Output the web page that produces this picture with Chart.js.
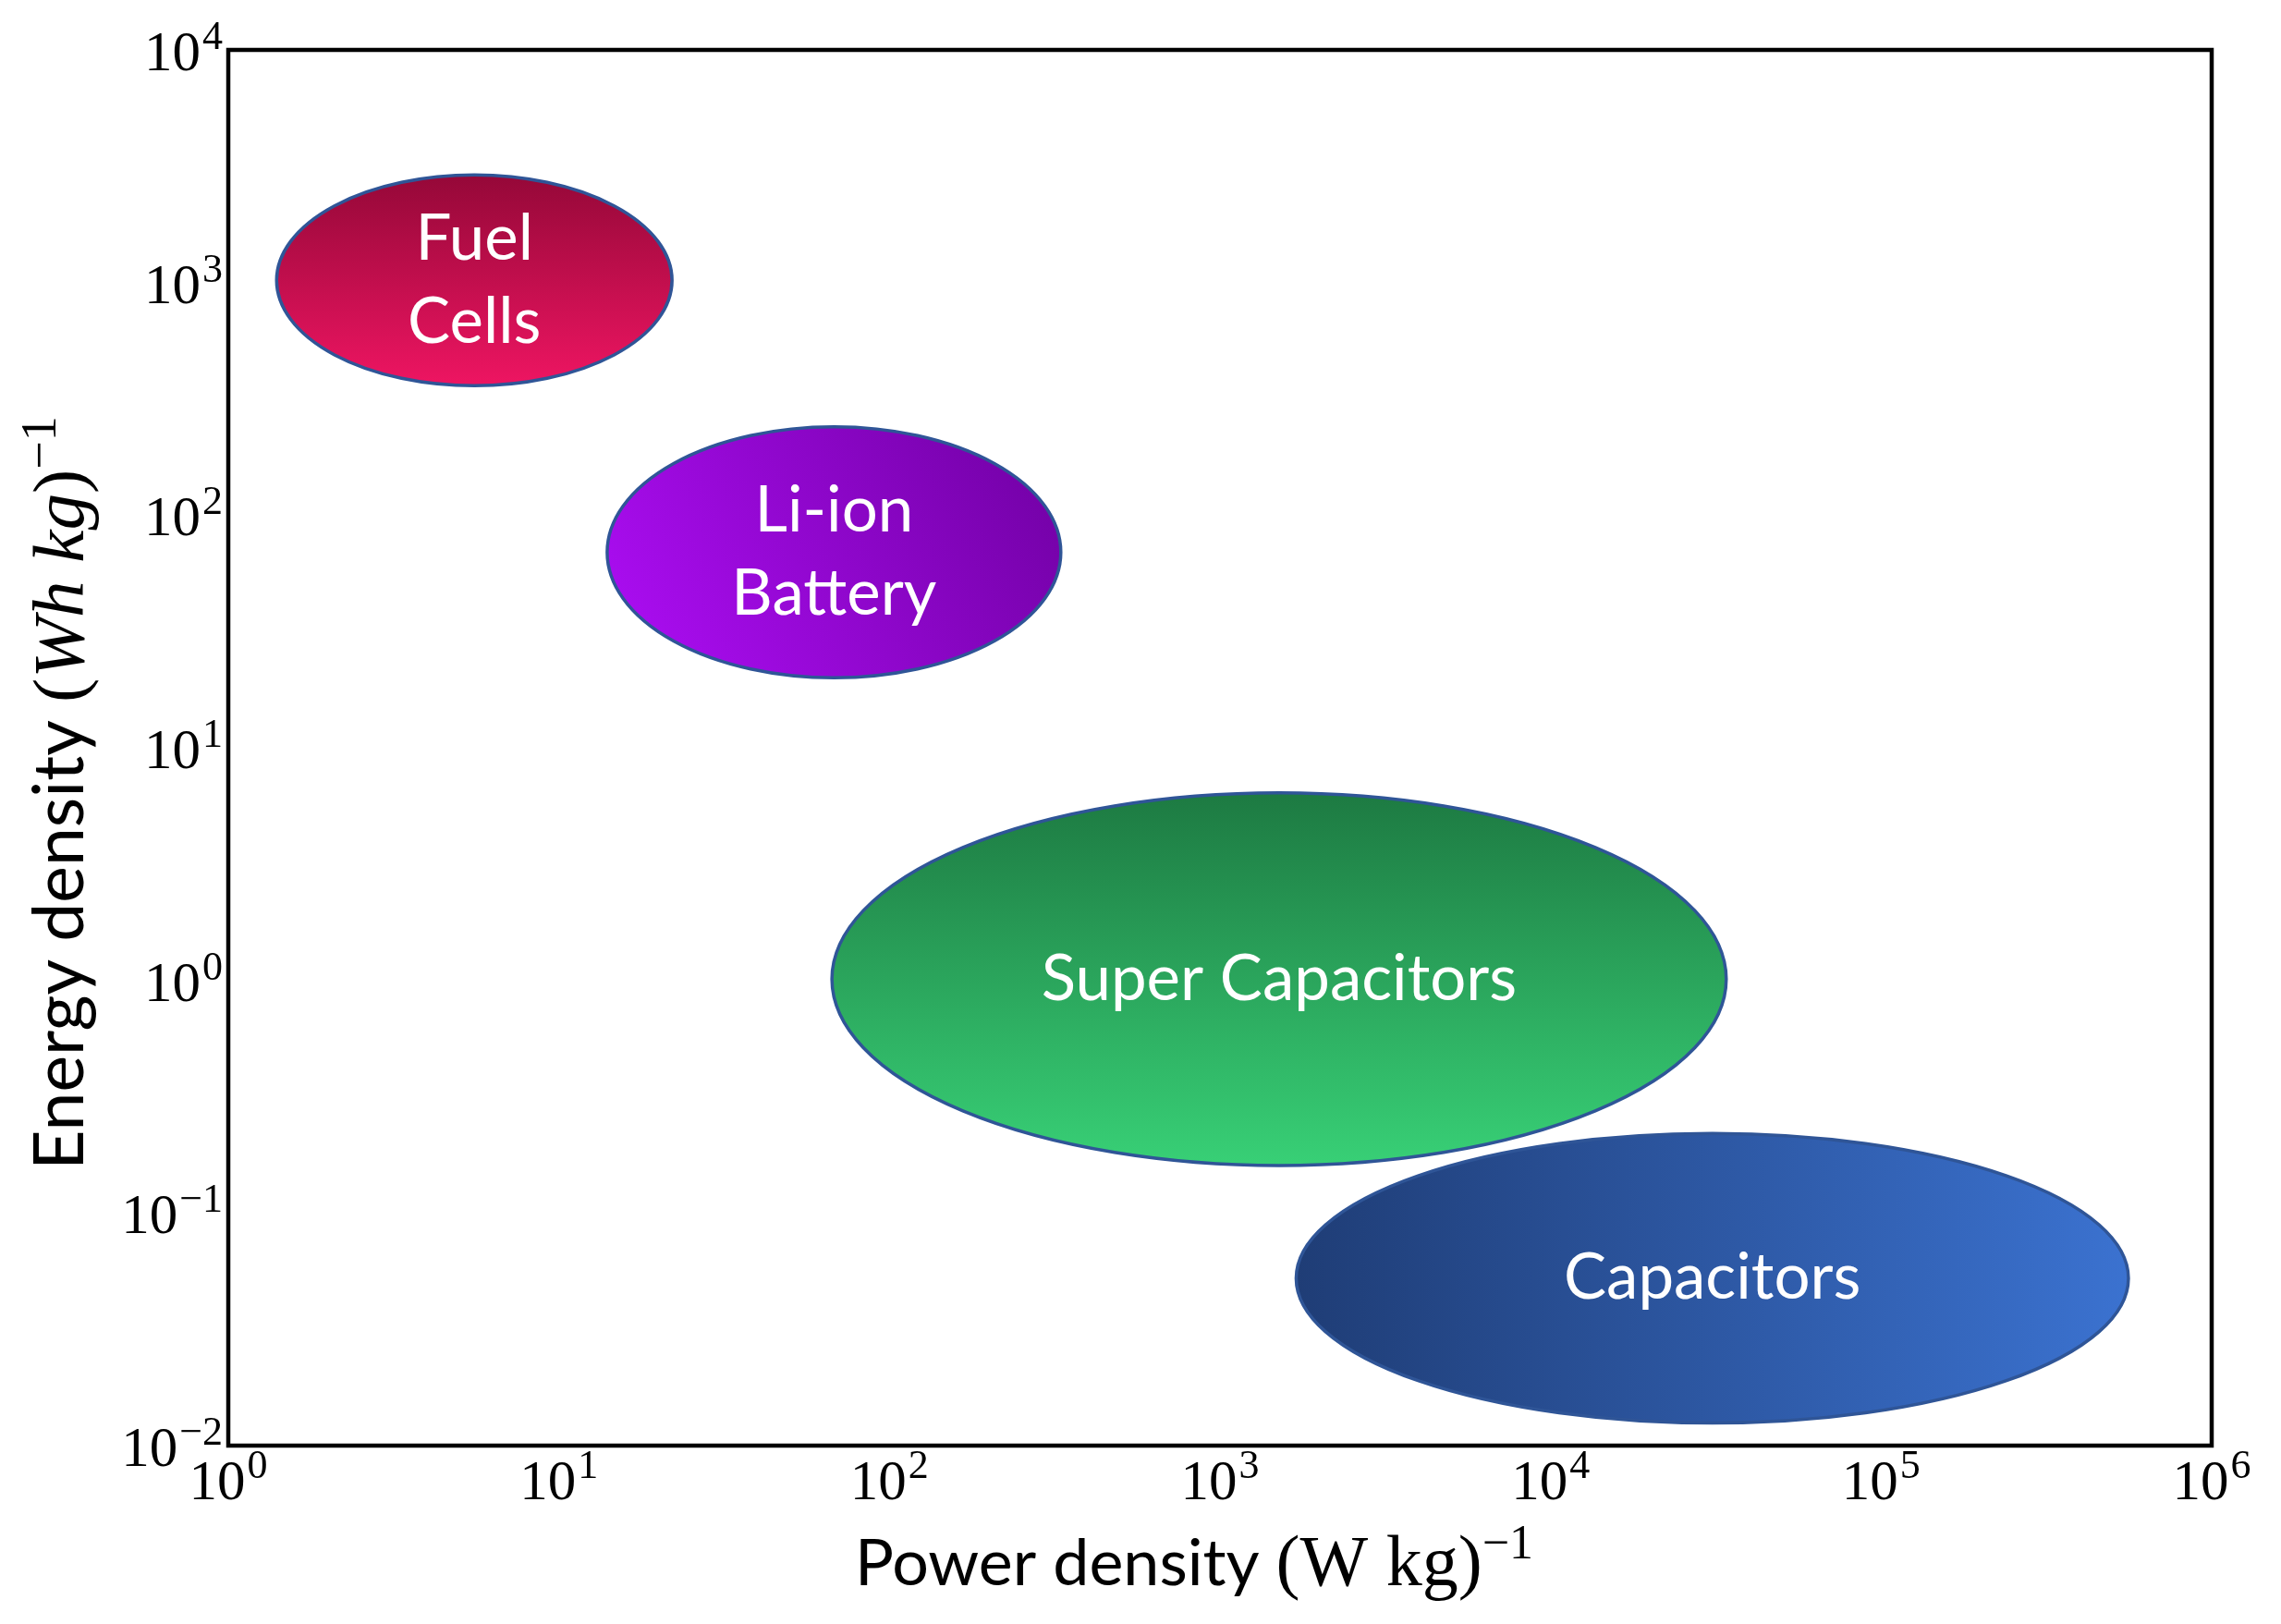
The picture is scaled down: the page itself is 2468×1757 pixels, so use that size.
<!DOCTYPE html>
<html>
<head>
<meta charset="utf-8">
<script src="https://cdn.jsdelivr.net/npm/chart.js@4.4.1/dist/chart.umd.min.js"></script>
<style>
  html, body { margin: 0; padding: 0; background: #fff; }
  #wrap { width: 2468px; height: 1757px; position: relative; }
</style>
</head>
<body>
<div id="wrap"><canvas id="chart"></canvas></div>
<script>
// regions of the Ragone plot: power range (W/kg) and energy range (Wh/kg)
const categories = [["Fuel", "Cells"], ["Li-ion", "Battery"], ["Super Capacitors"], ["Capacitors"]];
const powerMin = [1.4, 14, 67, 1700];
const powerMax = [22, 330, 34000, 560000];
const energyMin = [360, 20, 0.16, 0.0125];
const energyMax = [2900, 240, 6.4, 0.22];

const xTickExps = [0, 1, 2, 3, 4, 5, 6];
const yTickExps = [-2, -1, 0, 1, 2, 3, 4];

// gradient fill for each region
const fills = [
  { dir: "down", from: "#950838", to: "#ee1562" },
  { dir: "diag", from: "#7000a2", to: "#ae0ef6" },
  { dir: "down", from: "#1d7a42", to: "#38d076" },
  { dir: "right", from: "#1f3d76", to: "#3b72d0" }
];

const MATH = '"Liberation Serif", "DejaVu Serif", serif';
const SANS = 'Lato, "Open Sans", sans-serif';

// center of each region (geometric mean on the log axes)
let centers = [];
for (i = 0; i < categories.length; i++) {
  centers.push({
    x: Math.sqrt(powerMin[i] * powerMax[i]),
    y: Math.sqrt(energyMin[i] * energyMax[i])
  });
}

function powLabel(ctx, exp, x, y, align) {
  const base = "10";
  const sup = exp < 0 ? "\u2212" + Math.abs(exp) : String(exp);
  ctx.font = "61px " + MATH;
  const wb = ctx.measureText(base).width;
  ctx.font = "44px " + MATH;
  const ws = ctx.measureText(sup).width;
  const x0 = align === "right" ? x - wb - ws - 2 : x - (wb + ws + 2) / 2;
  ctx.textAlign = "left";
  ctx.textBaseline = "alphabetic";
  ctx.font = "61px " + MATH;
  ctx.fillText(base, x0, y);
  ctx.font = "44px " + MATH;
  ctx.fillText(sup, x0 + wb + 2, y - 23);
}

// draw a line of text made of runs with different fonts
function drawRuns(ctx, runs, x, y) {
  let total = 0;
  runs.forEach(function (r) {
    ctx.font = r.font;
    r.w = ctx.measureText(r.text).width;
    total += r.w;
  });
  let cx = x - total / 2;
  ctx.textAlign = "left";
  ctx.textBaseline = "alphabetic";
  runs.forEach(function (r) {
    ctx.font = r.font;
    ctx.fillText(r.text, cx, y + (r.dy || 0));
    cx += r.w;
  });
}

const regionsPlugin = {
  id: "regions",
  beforeDatasetsDraw(chart) {
    const ctx = chart.ctx;
    const xs = chart.scales.x;
    const ys = chart.scales.y;
    ctx.save();
    for (let i = 0; i < categories.length; i++) {
      const x0 = xs.getPixelForValue(powerMin[i]);
      const x1 = xs.getPixelForValue(powerMax[i]);
      const y0 = ys.getPixelForValue(energyMax[i]);
      const y1 = ys.getPixelForValue(energyMin[i]);
      const cx = (x0 + x1) / 2, cy = (y0 + y1) / 2;
      let g;
      if (fills[i].dir === "down") g = ctx.createLinearGradient(0, y0, 0, y1);
      else if (fills[i].dir === "right") g = ctx.createLinearGradient(x0, 0, x1, 0);
      else g = ctx.createLinearGradient(x1, y0, x0, y1);
      g.addColorStop(0, fills[i].from);
      g.addColorStop(1, fills[i].to);
      ctx.beginPath();
      ctx.ellipse(cx, cy, (x1 - x0) / 2, (y1 - y0) / 2, 0, 0, Math.PI * 2);
      ctx.fillStyle = g;
      ctx.fill();
      ctx.lineWidth = 3.5;
      ctx.strokeStyle = "#2f5597";
      ctx.stroke();

      const lines = categories[i];
      ctx.fillStyle = "#ffffff";
      ctx.font = "69px " + SANS;
      ctx.textAlign = "center";
      ctx.textBaseline = "middle";
      const lh = 90;
      for (let k = 0; k < lines.length; k++) {
        ctx.fillText(lines[k], cx, cy + (k - (lines.length - 1) / 2) * lh);
      }
    }
    ctx.restore();
  },
  afterDraw(chart) {
    const ctx = chart.ctx;
    const a = chart.chartArea;
    const xs = chart.scales.x;
    const ys = chart.scales.y;
    ctx.save();
    ctx.strokeStyle = "#000";
    ctx.lineWidth = 4.5;
    ctx.strokeRect(a.left, a.top, a.right - a.left, a.bottom - a.top);

    ctx.fillStyle = "#000";
    xTickExps.forEach(function (e) {
      powLabel(ctx, e, xs.getPixelForValue(Math.pow(10, e)), a.bottom + 58, "center");
    });
    yTickExps.forEach(function (e) {
      powLabel(ctx, e, a.left - 6, ys.getPixelForValue(Math.pow(10, e)) + 22, "right");
    });

    drawRuns(ctx, [
      { text: "Power density ", font: "70px " + SANS },
      { text: "(W kg)", font: "78px " + MATH },
      { text: "\u22121", font: "52px " + MATH, dy: -29 }
    ], (a.left + a.right) / 2 - 28, a.bottom + 151);

    ctx.translate(a.left - 157, (a.top + a.bottom) / 2 + 49);
    ctx.rotate(-Math.PI / 2);
    drawRuns(ctx, [
      { text: "Energy density ", font: "75px " + SANS },
      { text: "(", font: "79px " + MATH },
      { text: "Wh kg", font: "italic 79px " + MATH },
      { text: ")", font: "79px " + MATH },
      { text: "\u22121", font: "54px " + MATH, dy: -30 }
    ], 0, 0);
    ctx.restore();
  }
};

const ctx = document.getElementById("chart");

new Chart(ctx, {
  type: "scatter",
  data: {
    datasets: [
      {
        label: "regions",
        data: centers,
        pointRadius: 0
      }
    ]
  },
  options: {
    responsive: true,
    maintainAspectRatio: false,
    animation: false,
    layout: { padding: { left: 247, top: 54, right: 75, bottom: 193 } },
    plugins: { legend: { display: false }, tooltip: { enabled: false } },
    scales: {
      x: { type: "logarithmic", min: 1, max: 1e6, display: false },
      y: { type: "logarithmic", min: 0.01, max: 1e4, display: false }
    }
  },
  plugins: [regionsPlugin]
});
</script>
</body>
</html>
